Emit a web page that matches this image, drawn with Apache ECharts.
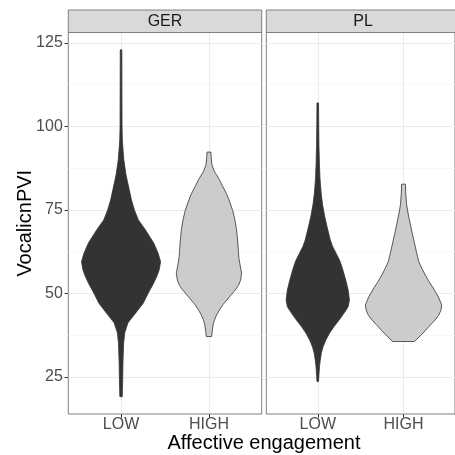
<!DOCTYPE html>
<html>
<head>
<meta charset="utf-8">
<script src="https://cdn.jsdelivr.net/npm/echarts@6/dist/echarts.min.js"></script>
<style>html,body{margin:0;padding:0;background:#fff}#c{width:455px;height:455px}</style>
</head>
<body>
<div id="c"></div>
<script>
// ---- data ----
const facets = ['GER', 'PL'];
const categories = ['LOW', 'HIGH'];
const yTickValues = [25, 50, 75, 100, 125];
const yMinorValues = [37.5, 62.5, 87.5, 112.5];
const xAxisTitle = 'Affective engagement';
const yAxisTitle = 'VocalicnPVI';

// violin outlines: VocalicnPVI values and relative density (half-width) at each
const gerLowY = [122.9, 110, 100, 96, 93, 90, 85.5, 81, 78, 75, 72, 69, 65.1, 62, 59.5, 57, 55, 52.5, 50.1, 47.1, 44.2, 41.2, 38.2, 35, 30, 25, 21, 19.1];
const gerLowD = [0.8, 0.9, 1.0, 1.3, 2.0, 2.8, 5, 8.3, 10.5, 13.5, 17.5, 24.7, 33, 37.5, 40, 38.5, 36, 32, 27.5, 22.5, 15, 7, 3.7, 2.6, 2.0, 1.7, 1.4, 1.2];
const gerHighY = [92.3, 90.5, 88.5, 86.5, 84.5, 82, 79.5, 77, 74.5, 72, 69.5, 67, 64.5, 62.5, 60.5, 58.5, 56, 54, 52.5, 51, 49.6, 48, 46.6, 45, 43.6, 42, 40.6, 38.5, 37.1];
const gerHighD = [2, 2.3, 3, 5.5, 9.7, 14, 18.3, 21.5, 24.3, 26.2, 27.7, 28.6, 29.3, 29.8, 30.3, 31.5, 33, 32, 30, 26.5, 22.5, 18, 14, 10.5, 7.8, 5.5, 4.2, 3.2, 2.7];
const plLowY = [107, 100, 94.5, 89, 84.5, 80, 76.5, 73, 69.5, 66, 64, 62, 60, 58, 56, 54, 51, 48, 46, 44, 42, 40, 38, 36, 34, 32.1, 30, 28.1, 25.5, 23.6];
const plLowD = [0.8, 1.0, 1.2, 1.7, 2.3, 3.5, 5, 7.2, 10, 13, 15.5, 19, 22.5, 25, 27, 29, 31.5, 32.8, 31.5, 27, 22, 16.7, 12, 8.3, 5.5, 3.7, 2.6, 1.8, 1.2, 0.8];
const plHighY = [82.7, 80, 76.5, 73.5, 70.5, 68, 65.5, 62.5, 59.5, 57.5, 55.5, 53.5, 51.6, 49, 46.6, 45, 43.6, 42, 40.6, 39, 37.6, 35.6];
const plHighD = [2, 2.3, 3.2, 5, 7.2, 9, 11, 13.3, 15.8, 19, 22.5, 26.5, 30.8, 36, 39.5, 38.8, 36.7, 32.5, 28, 23, 18.3, 11.3];

const violins = [
  [{y: gerLowY, d: gerLowD}, {y: gerHighY, d: gerHighD}],
  [{y: plLowY, d: plLowD}, {y: plHighY, d: plHighD}]
];

// ---- scales ----
const allY = [].concat(gerLowY, gerHighY, plLowY, plHighY);
const allD = [].concat(gerLowD, gerHighD, plLowD, plHighD);
const yLo = Math.min.apply(null, allY), yHi = Math.max.apply(null, allY);
const yPad = (yHi - yLo) * 0.05;
const yMin = yLo - yPad, yMax = yHi + yPad;
const halfScale = 0.45 / Math.max.apply(null, allD);
const fills = ['#333333', '#CCCCCC'];

const panelLeft = [68.3, 266.3];
const panelW = 193.4;
const panelTop = 32.5;
const panelH = 381.5;
const font = 'Liberation Sans, Arial, sans-serif';

const chart = echarts.init(document.getElementById('c'), null, {renderer: 'canvas'});

const grids = [], xAxes = [], yAxes = [], series = [], graphics = [];
facets.forEach(function (f, g) {
  grids.push({left: panelLeft[g], top: panelTop, width: panelW, height: panelH,
    show: true, borderColor: '#808080', borderWidth: 1, backgroundColor: '#fff', containLabel: false});
  xAxes.push({type: 'value', gridIndex: g, min: 0.4, max: 2.6,
    axisLine: {show: false}, splitLine: {show: false},
    axisTick: {show: true, length: 3.7, customValues: [1, 2], lineStyle: {color: '#333333', width: 1}},
    axisLabel: {show: true, customValues: [1, 2], margin: 3, color: '#4D4D4D', fontSize: 16, fontFamily: font,
      formatter: function (v) { return categories[Math.round(v) - 1]; }}
  });
  yAxes.push({type: 'value', gridIndex: g, min: yMin, max: yMax,
    axisLine: {show: false}, splitLine: {show: false},
    axisTick: {show: g === 0, length: 3.7, customValues: yTickValues, lineStyle: {color: '#333333', width: 1}},
    axisLabel: {show: g === 0, customValues: yTickValues, margin: 5.5, color: '#4D4D4D', fontSize: 16, fontFamily: font}
  });
  const gridLines = [];
  yTickValues.forEach(function (v) { gridLines.push({yAxis: v, lineStyle: {color: '#EBEBEB', width: 1.1, type: 'solid'}}); });
  yMinorValues.forEach(function (v) { gridLines.push({yAxis: v, lineStyle: {color: '#F2F2F2', width: 0.6, type: 'solid'}}); });
  [1, 2].forEach(function (v) { gridLines.push({xAxis: v, lineStyle: {color: '#EBEBEB', width: 1.1, type: 'solid'}}); });
  series.push({type: 'line', xAxisIndex: g, yAxisIndex: g, data: [], silent: true, z: 1,
    markLine: {silent: true, symbol: ['none', 'none'], label: {show: false}, z: 1, animation: false, data: gridLines}});
  series.push({type: 'custom', xAxisIndex: g, yAxisIndex: g, z: 3, silent: true,
    data: [[1, 0], [2, 1]],
    renderItem: function (params, api) {
      const x = api.value(0);
      const k = api.value(1);
      const v = violins[g][k];
      const pts = [];
      for (let i = 0; i < v.y.length; i++) pts.push(api.coord([x + v.d[i] * halfScale, v.y[i]]));
      for (let i = v.y.length - 1; i >= 0; i--) pts.push(api.coord([x - v.d[i] * halfScale, v.y[i]]));
      return {type: 'polygon', shape: {points: pts},
        style: {fill: fills[k], stroke: '#333333', lineWidth: 0.8}};
    }
  });
  graphics.push({type: 'rect', shape: {x: panelLeft[g], y: 10, width: panelW, height: panelTop - 10},
    style: {fill: '#D9D9D9', stroke: '#808080', lineWidth: 1}, z: 10});
  graphics.push({type: 'text', x: panelLeft[g] + panelW / 2, y: (10 + panelTop) / 2,
    style: {text: f, fill: '#1A1A1A', font: '16px ' + font, textAlign: 'center', textVerticalAlign: 'middle'}, z: 11});
});
graphics.push({type: 'text', x: (panelLeft[0] + panelLeft[1] + panelW) / 2, y: 443,
  style: {text: xAxisTitle, fill: '#000', font: '20px ' + font, textAlign: 'center', textVerticalAlign: 'middle'}, z: 11});
graphics.push({type: 'text', x: 25, y: panelTop + panelH / 2, rotation: Math.PI / 2,
  style: {text: yAxisTitle, fill: '#000', font: '20px ' + font, textAlign: 'center', textVerticalAlign: 'middle'}, z: 11});

chart.setOption({
  animation: false,
  backgroundColor: '#fff',
  grid: grids, xAxis: xAxes, yAxis: yAxes, series: series, graphic: graphics
});
</script>
</body>
</html>
